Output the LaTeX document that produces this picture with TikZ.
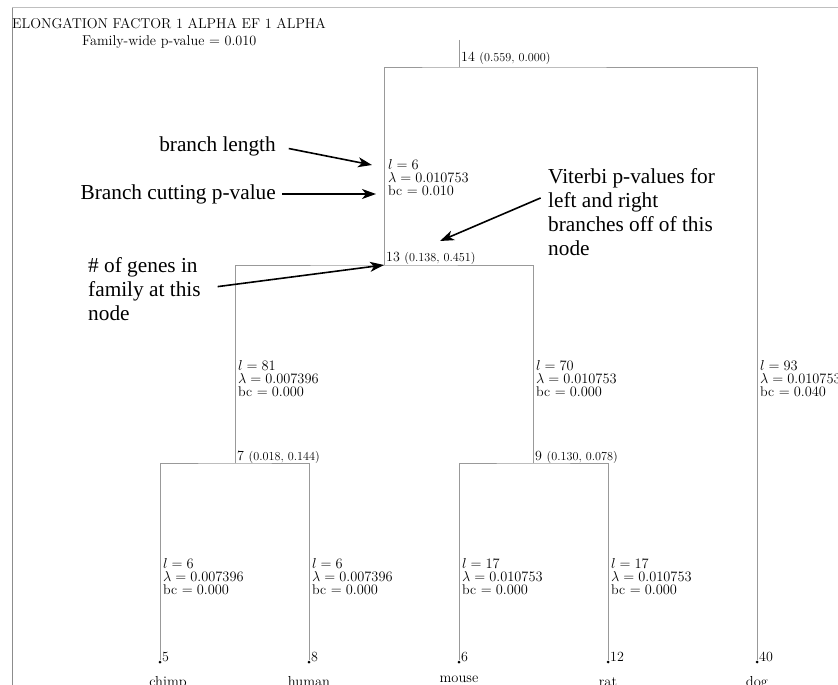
\documentclass[tikz,border=0pt]{standalone}
\usepackage{amsmath}
\usepackage{fontspec}
\newfontfamily\notefont{Liberation Serif}
\newcommand{\pvalfont}{\fontsize{12.2}{12.2}\selectfont}
\usetikzlibrary{arrows.meta,positioning}

\begin{document}
\begin{tikzpicture}[
    x=1pt, y=-1pt,
    edge/.style={draw=black!40, line width=0.9pt},
    brlab/.style={anchor=north west, inner sep=0pt, align=left, font=\fontsize{14}{13.2}\selectfont},
    numlab/.style={anchor=base west, inner sep=0pt, font=\fontsize{14}{14}\selectfont},
    leaf/.style={circle, fill=black, inner sep=0pt, minimum size=3pt},
    species/.style={anchor=base, inner sep=0pt, font=\fontsize{14.5}{14.5}\selectfont},
    note/.style={font=\notefont\fontsize{21.3}{24}\selectfont, align=left, inner sep=0pt},
    arrow/.style={-{Stealth[length=14pt, width=10pt, inset=4pt]}, line width=1.6pt},
]
\useasboundingbox (0,0) rectangle (838,685);

% page frame
\draw[black!25, line width=1pt] (12,8) -- (838,8);
\draw[black!45, line width=1pt] (12,8) -- (12,685);

\node[anchor=west, inner sep=0pt, font=\fontsize{14.2}{14.2}\selectfont] (title) at (12,24) {ELONGATION FACTOR 1 ALPHA EF 1 ALPHA};
\node[anchor=west, inner sep=0pt, font=\fontsize{14.2}{14.2}\selectfont] (famp) at (82,42) {Family-wide p-value $=$ 0.010};

% internal nodes
\coordinate (top) at (459,40);
\coordinate (n14) at (459,67);
\coordinate (n13) at (384,265);
\coordinate (n7) at (235,463);
\coordinate (n9) at (533,463);

% leaves
\node[leaf] (chimp) at (160,662) {};
\node[leaf] (human) at (309,662) {};
\node[leaf] (mouse) at (459,662) {};
\node[leaf] (rat) at (608,662) {};
\node[leaf] (dog) at (757,662) {};

% tree
\draw[edge] (top) -- (n14);
\draw[edge] (n13) |- (n14) -| (dog);
\draw[edge] (n7) |- (n13) -| (n9);
\draw[edge] (chimp) |- (n7) -| (human);
\draw[edge] (mouse) |- (n9) -| (rat);

% node labels
\node[numlab] (l14) at (461,62) {14 {\pvalfont(0.559, 0.000)}};
\node[numlab] (l13) at (386,261) {13 {\pvalfont(0.138, 0.451)}};
\node[numlab] (l7) at (237,460) {7 {\pvalfont(0.018, 0.144)}};
\node[numlab] (l9) at (535,460) {9 {\pvalfont(0.130, 0.078)}};

% branch labels
\node[brlab] (b13) at (388,159) {$l = 6$\\$\lambda = 0.010753$\\bc $= 0.010$};
\node[brlab] (b7) at (238,360) {$l = 81$\\$\lambda = 0.007396$\\bc $= 0.000$};
\node[brlab] (b9) at (536,360) {$l = 70$\\$\lambda = 0.010753$\\bc $= 0.000$};
\node[brlab] (bdog) at (760,360) {$l = 93$\\$\lambda = 0.010753$\\bc $= 0.040$};
\node[brlab] (bchimp) at (163,558) {$l = 6$\\$\lambda = 0.007396$\\bc $= 0.000$};
\node[brlab] (bhuman) at (312,558) {$l = 6$\\$\lambda = 0.007396$\\bc $= 0.000$};
\node[brlab] (bmouse) at (462,558) {$l = 17$\\$\lambda = 0.010753$\\bc $= 0.000$};
\node[brlab] (brat) at (611,558) {$l = 17$\\$\lambda = 0.010753$\\bc $= 0.000$};

% leaf sizes and names
\node[numlab] (s5) at (162,661) {5};
\node[numlab] (s8) at (311,661) {8};
\node[numlab] (s6) at (461,661) {6};
\node[numlab] (s12) at (610,661) {12};
\node[numlab] (s40) at (759,661) {40};
\node[species] (nchimp) at (168,686) {chimp};
\node[species] (nhuman) at (309,686) {human};
\node[species] (nmouse) at (459,682) {mouse};
\node[species] (nrat) at (608,686) {rat};
\node[species] (ndog) at (757,686) {dog};

% annotations
\node[note, anchor=east] (blen) at (276,146) {branch length};
\node[note, anchor=east] (bcut) at (276,194) {Branch cutting p-value};
\node[note, anchor=north west] (vit) at (548,168) {Viterbi p-values for\\left and right\\branches off of this\\node};
\node[note, anchor=north west] (ngen) at (88,257) {\# of genes in\\family at this\\node};

\coordinate (blentip) at (372,165);
\coordinate (bcuttip) at (376,194);
\coordinate (vittip) at (440,241);

\draw[arrow, shorten <=13pt] (blen.east) -- (blentip);
\draw[arrow, shorten <=6pt] (bcut.east) -- (bcuttip);
\draw[arrow, shorten <=8pt] ([yshift=17pt]vit.west) -- (vittip);
\draw[arrow, shorten <=17pt] (ngen.east) -- (n13);
\end{tikzpicture}
\end{document}
